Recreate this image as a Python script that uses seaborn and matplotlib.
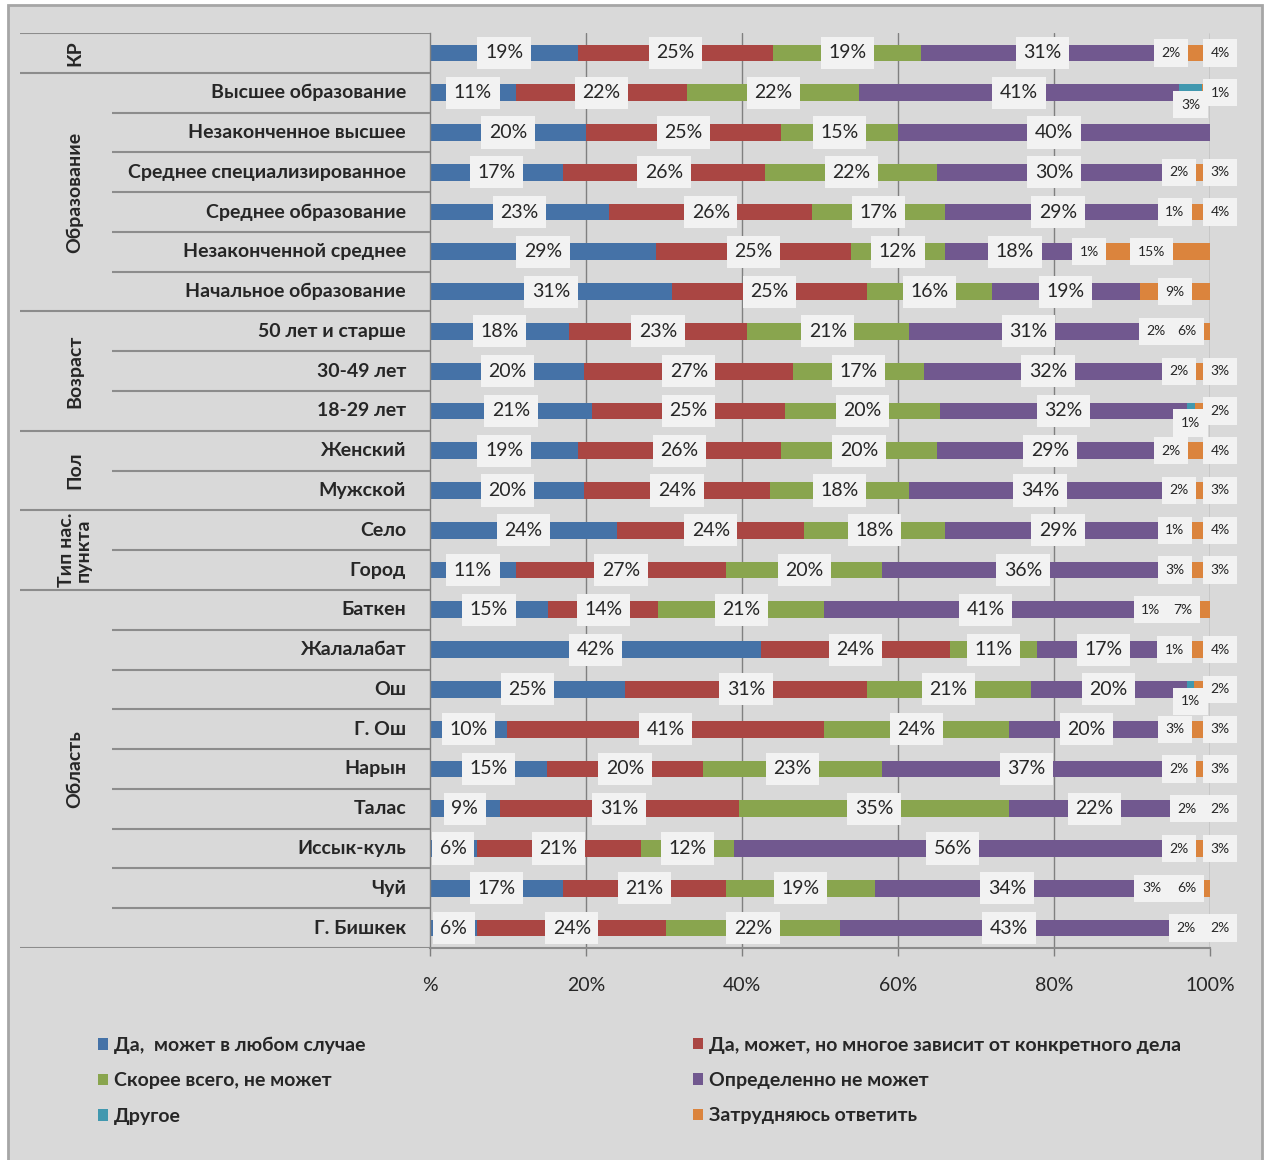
import numpy as np
import pandas as pd
import seaborn as sns
import matplotlib.pyplot as plt
from matplotlib.patches import Patch, Rectangle

# строки диаграммы (сверху вниз)
rows = ["КР",
        "Высшее образование", "Незаконченное высшее", "Среднее специализированное",
        "Среднее образование", "Незаконченной среднее", "Начальное образование",
        "50 лет и старше", "30-49 лет", "18-29 лет",
        "Женский", "Мужской",
        "Село", "Город",
        "Баткен", "Жалалабат", "Ош", "Г. Ош", "Нарын", "Талас", "Иссык-куль", "Чуй", "Г. Бишкек"]

groups = ["КР", "Образование", "Возраст", "Пол", "Тип нас.\nпункта", "Область"]
group_sizes = [1, 6, 3, 2, 2, 9]

series = ["Да,  может в любом случае", "Да, может, но многое зависит от конкретного дела",
          "Скорее всего, не может", "Определенно не может", "Другое", "Затрудняюсь ответить"]
colors = ["#4572a7", "#aa4643", "#89a54e", "#71588f", "#4198af", "#db843d"]

da_vsegda = [19, 11, 20, 17, 23, 29, 31, 18, 20, 21, 19, 20, 24, 11, 15, 42, 25, 10, 15, 9, 6, 17, 6]
da_zavisit = [25, 22, 25, 26, 26, 25, 25, 23, 27, 25, 26, 24, 24, 27, 14, 24, 31, 41, 20, 31, 21, 21, 24]
skoree_net = [19, 22, 15, 22, 17, 12, 16, 21, 17, 20, 20, 18, 18, 20, 21, 11, 21, 24, 23, 35, 12, 19, 22]
opredelenno_net = [31, 41, 40, 30, 29, 18, 19, 31, 32, 32, 29, 34, 29, 36, 41, 17, 20, 20, 37, 22, 56, 34, 43]
drugoe = [2, 3, 0, 2, 1, 1, 0, 2, 2, 1, 2, 2, 1, 3, 1, 1, 1, 3, 2, 2, 2, 3, 2]
zatrud = [4, 1, 0, 3, 4, 15, 9, 6, 3, 2, 4, 3, 4, 3, 7, 4, 2, 3, 3, 2, 3, 6, 2]

df = pd.DataFrame(dict(zip(series, [da_vsegda, da_zavisit, skoree_net, opredelenno_net, drugoe, zatrud])),
                  index=rows)
pct = df.div(df.sum(axis=1), axis=0) * 100
cum = pct.cumsum(axis=1)
start = cum - pct

W, H = 1267, 1160
bg = "#d9d9d9"
sns.set_theme(style="white")
plt.rcParams['font.family'] = ['Lato', 'DejaVu Sans']

fig = plt.figure(figsize=(W / 100, H / 100), dpi=100, facecolor="white")
fig.patches.append(Rectangle((8 / W, -0.05), (1262 - 8) / W, (1160 - 5) / H + 0.05,
                             transform=fig.transFigure, facecolor=bg, edgecolor="#a6a6a6",
                             linewidth=2, zorder=-10))

bottom = 1 - 948 / H
height = 915 / H
ax = fig.add_axes([430 / W, bottom, 780 / W, height])
ax.set_facecolor("none")

plot_df = cum.reset_index().rename(columns={"index": "row"})
for name, col in reversed(list(zip(series, colors))):
    sns.barplot(data=plot_df, x=name, y="row", order=rows, orient="h", color=col,
                saturation=1, width=0.42, errorbar=None, linewidth=0, ax=ax, zorder=2)

ax.set_xlim(0, 100)
ax.set_ylim(len(rows) - 0.5, -0.5)
ax.set_xlabel("")
ax.set_ylabel("")
ax.set_yticks([])
ax.set_xticks([0, 20, 40, 60, 80, 100])
ax.set_xticklabels(["%", "20%", "40%", "60%", "80%", "100%"], fontsize=14, color="#262626")
ax.tick_params(axis="x", direction="out", length=6, width=1, color="#7f7f7f", pad=15, bottom=True)
for x in [20, 40, 60, 80, 100]:
    ax.axvline(x, color="#808080", linewidth=1, zorder=1)
for s in ["top", "right"]:
    ax.spines[s].set_visible(False)
ax.spines["left"].set_color("#808080")
ax.spines["bottom"].set_color("#8c8c8c")
ax.spines["left"].set_linewidth(1)
ax.spines["bottom"].set_linewidth(1.5)

# подписи значений
box = dict(facecolor="#f2f2f2", edgecolor="none", pad=5.5)
for i, r in enumerate(rows):
    for j, name in enumerate(series):
        v = df.loc[r, name]
        if v == 0:
            continue
        xc = start.loc[r, name] + pct.loc[r, name] / 2
        y = i
        small = j >= 4
        if j == 4 and xc > 97.2:
            y = i + 0.3
        if j == 5 and v < 6:
            xc = 101.3
        ax.text(xc, y, f"{v}%", ha="center", va="center", fontsize=10 if small else 14,
                color="#262626", bbox=box, zorder=5, clip_on=False)

# таблица категорий слева
tax = fig.add_axes([20 / W, bottom, 410 / W, height])
tax.set_xlim(0, 410)
tax.set_ylim(len(rows) - 0.5, -0.5)
tax.axis("off")
line_kw = dict(color="#8c8c8c", linewidth=1.5)
pos = 0
tax.hlines(-0.5, 0, 410, **line_kw)
for g, n in zip(groups, group_sizes):
    tax.hlines(pos + n - 0.5, 0, 410, **line_kw)
    for k in range(1, n):
        tax.hlines(pos + k - 0.5, 92, 410, **line_kw)
    if n > 1:
        for k in range(n):
            tax.text(386, pos + k, rows[pos + k], ha="right", va="center", fontsize=14,
                     fontweight="bold", color="#262626")
    tax.text(55, pos + (n - 1) / 2, g, rotation=90, ha="center", va="center", fontsize=14,
             fontweight="bold", color="#262626", linespacing=1.0)
    pos += n

handles = [Patch(facecolor=c, edgecolor="none", label=s) for s, c in zip(series, colors)]
leg_kw = dict(loc="upper left", frameon=False, handlelength=0.55, handleheight=0.55,
              handletextpad=0.3, labelspacing=0.95, fontsize=14)
leg1 = fig.legend(handles=[handles[0], handles[2], handles[4]], bbox_to_anchor=(80 / W, 1 - 1019 / H), **leg_kw)
leg2 = fig.legend(handles=[handles[1], handles[3], handles[5]], bbox_to_anchor=(675 / W, 1 - 1019 / H), **leg_kw)
for leg in (leg1, leg2):
    for t in leg.get_texts():
        t.set_color("#262626")
        t.set_fontweight("bold")

fig.savefig("out.png", dpi=100, facecolor=fig.get_facecolor())
